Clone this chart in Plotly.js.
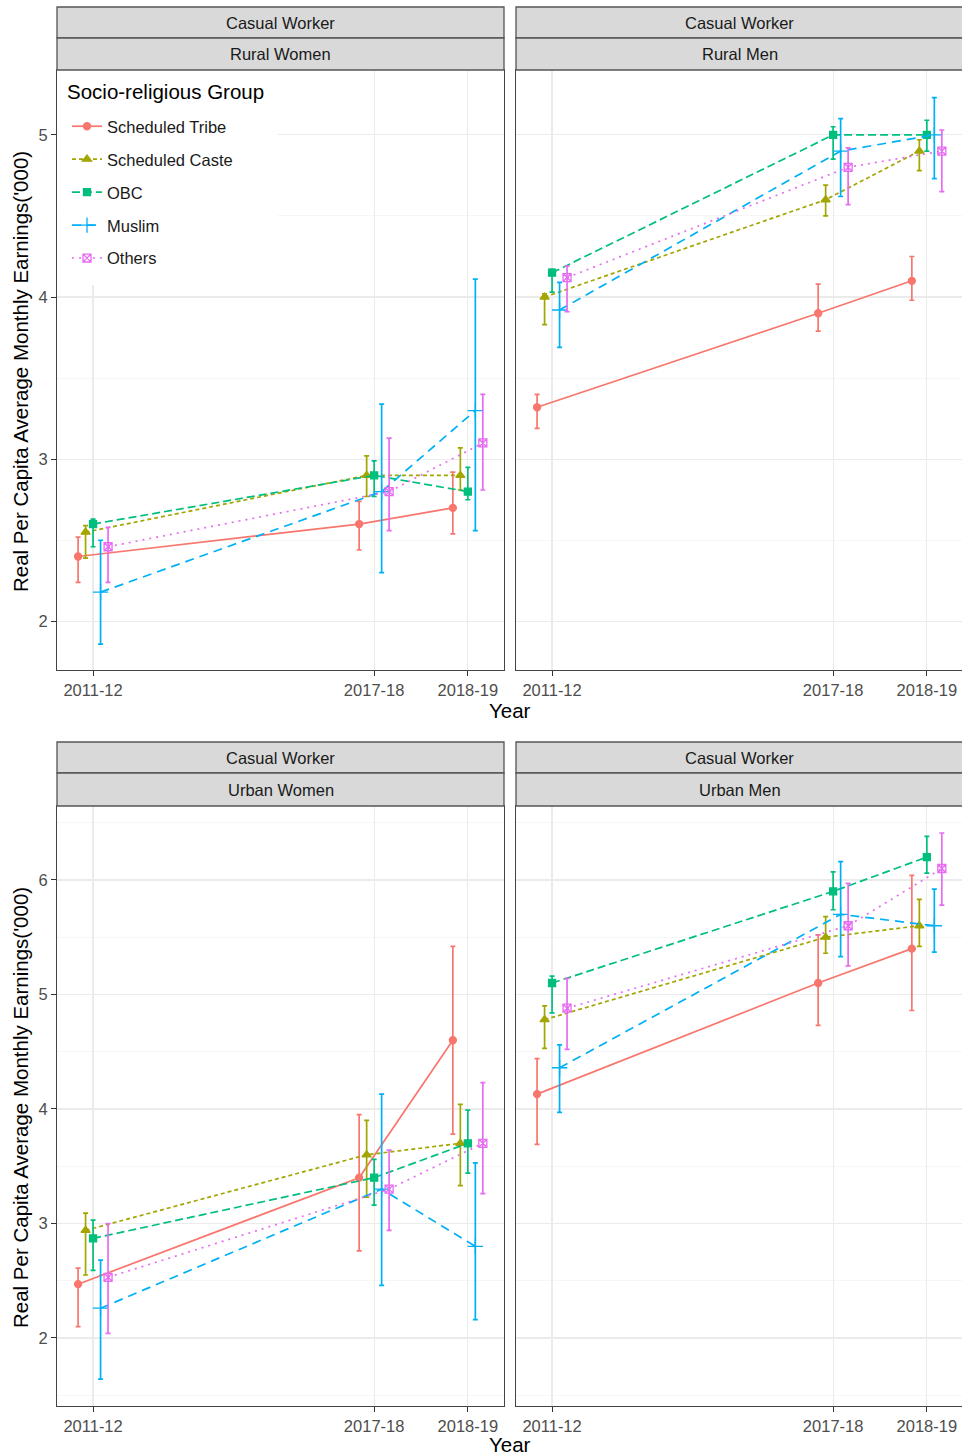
<!DOCTYPE html>
<html><head><meta charset="utf-8">
<script src="https://cdn.plot.ly/plotly-3.0.1.min.js"></script>
<style>html,body{margin:0;padding:0;overflow:hidden;background:#fff}</style>
</head><body><div id="chart" style="width:964px;height:1456px"></div>
<script>
const groups = ["Scheduled Tribe","Scheduled Caste","OBC","Muslim","Others"];
const yearLabels = ["2011-12","2017-18","2018-19"];
const yearNum = [0,3,4];
const stripTop = "Casual Worker";
const panelNames = ["Rural Women","Rural Men","Urban Women","Urban Men"];
const yTitle = "Real Per Capita Average Monthly Earnings('000)";
const xTitle = "Year";
const legendTitle = "Socio-religious Group";

// Rural Women: rows = groups, cols = years
const rwMean = [[2.40,2.60,2.70],[2.55,2.90,2.90],[2.60,2.90,2.80],[2.18,2.80,3.30],[2.46,2.80,3.10]];
const rwLow  = [[2.24,2.44,2.54],[2.39,2.77,2.81],[2.46,2.77,2.75],[1.86,2.30,2.56],[2.24,2.56,2.81]];
const rwHigh = [[2.52,2.74,2.92],[2.59,3.02,3.07],[2.63,2.99,2.95],[2.50,3.34,4.11],[2.58,3.13,3.40]];
// Rural Men
const rmMean = [[3.32,3.90,4.10],[4.00,4.60,4.90],[4.15,5.00,5.00],[3.92,4.90,5.00],[4.12,4.80,4.90]];
const rmLow  = [[3.19,3.79,3.98],[3.83,4.50,4.78],[4.03,4.85,4.90],[3.69,4.62,4.73],[3.91,4.57,4.65]];
const rmHigh = [[3.40,4.08,4.25],[4.02,4.69,4.97],[4.17,5.05,5.09],[4.09,5.10,5.23],[4.19,4.92,5.03]];
// Urban Women
const uwMean = [[2.47,3.40,4.60],[2.94,3.60,3.70],[2.87,3.40,3.70],[2.26,3.30,2.80],[2.53,3.30,3.70]];
const uwLow  = [[2.10,2.76,3.78],[2.55,3.23,3.33],[2.59,3.16,3.44],[1.64,2.46,2.16],[2.04,2.94,3.26]];
const uwHigh = [[2.61,3.95,5.42],[3.09,3.90,4.04],[3.03,3.56,3.99],[2.68,4.13,3.53],[3.00,3.64,4.23]];
// Urban Men
const umMean = [[4.13,5.10,5.40],[4.78,5.50,5.60],[5.10,5.90,6.20],[4.36,5.70,5.60],[4.88,5.60,6.10]];
const umLow  = [[3.69,4.73,4.86],[4.53,5.36,5.42],[4.84,5.74,6.06],[3.97,5.33,5.37],[4.52,5.25,5.78]];
const umHigh = [[4.44,5.52,6.04],[4.90,5.68,5.83],[5.16,6.07,6.38],[4.56,6.16,5.92],[5.14,5.97,6.41]];

// styles
const colors = ["#F8766D","#A3A500","#00BF7D","#00B0F6","#E76BF3"];
const symbols = ["circle","triangle-up","square","cross-thin-open","square-x-open"];
const sizes = [7,8,7,11,8];
const dashes = ["solid","4px,3px","8px,4px","9px,6px","2px,5px"];
const dodge = [-0.16,-0.08,0,0.08,0.16];

const W = 964, H = 1456;
const px = x => x / W, py = y => 1 - y / H;
const FONT = "Liberation Sans, Arial, Helvetica, sans-serif";

const panels = [
  {mean: rwMean, low: rwLow, high: rwHigh, xa: 'x',  ya: 'y'},
  {mean: rmMean, low: rmLow, high: rmHigh, xa: 'x2', ya: 'y2'},
  {mean: uwMean, low: uwLow, high: uwHigh, xa: 'x3', ya: 'y3'},
  {mean: umMean, low: umLow, high: umHigh, xa: 'x4', ya: 'y4'}
];

const traces = [];
panels.forEach((p, pi) => {
  groups.forEach((g, gi) => {
    const m = p.mean[gi];
    traces.push({
      type: 'scatter', mode: 'lines+markers',
      x: yearNum.map(v => v + dodge[gi]),
      y: m,
      error_y: {type: 'data', symmetric: false,
        array: p.high[gi].map((h, k) => +(h - m[k]).toFixed(3)),
        arrayminus: p.low[gi].map((l, k) => +(m[k] - l).toFixed(3)),
        color: colors[gi], thickness: 1.7, width: 2.5},
      line: {color: colors[gi], width: 1.7, dash: dashes[gi]},
      marker: {symbol: symbols[gi], size: sizes[gi], color: colors[gi], line: {color: colors[gi], width: 1.3}},
      name: g, legendgroup: g, showlegend: pi === 0,
      xaxis: p.xa, yaxis: p.ya, hoverinfo: 'skip'
    });
  });
});

const colX = [[57, 504], [516, 963]];
const rowY = [[70, 670], [806, 1406]];
const yRanges = [[1.70, 5.40], [1.406, 6.646]];
const xRange = [-0.385, 4.386];

function xAxis(col, row) {
  return {
    domain: [px(colX[col][0]), px(colX[col][1])],
    anchor: ['y','y2','y3','y4'][row*2+col],
    range: xRange, tickmode: 'array', tickvals: yearNum, ticktext: yearLabels,
    ticks: 'outside', ticklen: 5, tickcolor: '#333', tickwidth: 1,
    showgrid: true, gridcolor: '#ebebeb', gridwidth: 1.2, zeroline: false,
    showline: true, mirror: true, linecolor: '#444', linewidth: 1,
    tickfont: {family: FONT, size: 16.5, color: '#4d4d4d'}
  };
}
function yAxis(col, row) {
  return {
    domain: [py(rowY[row][1]), py(rowY[row][0])],
    anchor: ['x','x2','x3','x4'][row*2+col],
    range: yRanges[row], tickmode: 'linear', tick0: 0, dtick: 1,
    ticks: col === 0 ? 'outside' : '', ticklen: 5, tickcolor: '#333', tickwidth: 1,
    showticklabels: col === 0,
    showgrid: true, gridcolor: '#ebebeb', gridwidth: 1.2, zeroline: false,
    minor: {dtick: 0.5, tick0: 0, showgrid: true, gridcolor: '#f2f2f2', gridwidth: 0.7, ticks: ''},
    showline: true, mirror: true, linecolor: '#444', linewidth: 1,
    tickfont: {family: FONT, size: 16.5, color: '#4d4d4d'}
  };
}

const shapes = [];
const annotations = [];
// white legend box inside top-left panel (covers gridlines)
shapes.push({type: 'rect', xref: 'paper', yref: 'paper', x0: px(57.6), x1: px(278),
  y0: py(285), y1: py(70.6), fillcolor: '#fff', line: {width: 0}, layer: 'above'});
const stripBands = [[[7, 38], [38, 70]], [[742, 773], [773, 806]]];
for (let row = 0; row < 2; row++) {
  for (let col = 0; col < 2; col++) {
    const [x0, x1] = colX[col];
    const texts = [stripTop, panelNames[row*2+col]];
    stripBands[row].forEach((b, bi) => {
      shapes.push({type: 'rect', xref: 'paper', yref: 'paper', x0: px(x0), x1: px(x1), y0: py(b[1]), y1: py(b[0]),
        fillcolor: '#d9d9d9', line: {color: '#555', width: 1.3}, layer: 'above'});
      annotations.push({xref: 'paper', yref: 'paper', x: px((x0 + x1) / 2), y: py((b[0] + b[1]) / 2),
        text: texts[bi], showarrow: false, xanchor: 'center', yanchor: 'middle',
        font: {family: FONT, size: 16.5, color: '#1a1a1a'}});
    });
  }
  annotations.push({xref: 'paper', yref: 'paper', x: px(20), y: py((rowY[row][0] + rowY[row][1]) / 2 + 2),
    text: yTitle, textangle: -90, showarrow: false, xanchor: 'center', yanchor: 'middle',
    font: {family: FONT, size: 20.5, color: '#000'}});
  annotations.push({xref: 'paper', yref: 'paper', x: px(510), y: py(row === 0 ? 710 : 1444),
    text: xTitle, showarrow: false, xanchor: 'center', yanchor: 'middle',
    font: {family: FONT, size: 20.5, color: '#000'}});
}
// legend title
annotations.push({xref: 'paper', yref: 'paper', x: px(65), y: py(91), text: legendTitle,
  showarrow: false, xanchor: 'left', yanchor: 'middle',
  font: {family: FONT, size: 20.5, color: '#000'}});

const layout = {
  width: W, height: H, margin: {l: 0, r: 0, t: 0, b: 0},
  paper_bgcolor: '#fff', plot_bgcolor: '#fff',
  font: {family: FONT},
  xaxis: xAxis(0, 0), yaxis: yAxis(0, 0),
  xaxis2: xAxis(1, 0), yaxis2: yAxis(1, 0),
  xaxis3: xAxis(0, 1), yaxis3: yAxis(0, 1),
  xaxis4: xAxis(1, 1), yaxis4: yAxis(1, 1),
  shapes: shapes, annotations: annotations,
  showlegend: true,
  legend: {x: px(67), y: py(109), xanchor: 'left', yanchor: 'top', bgcolor: 'rgba(0,0,0,0)',
    borderwidth: 0, traceorder: 'grouped', tracegroupgap: 8.5,
    font: {family: FONT, size: 16.5, color: '#1a1a1a'}}
};

Plotly.newPlot('chart', traces, layout, {displayModeBar: false, staticPlot: true});
</script></body></html>
